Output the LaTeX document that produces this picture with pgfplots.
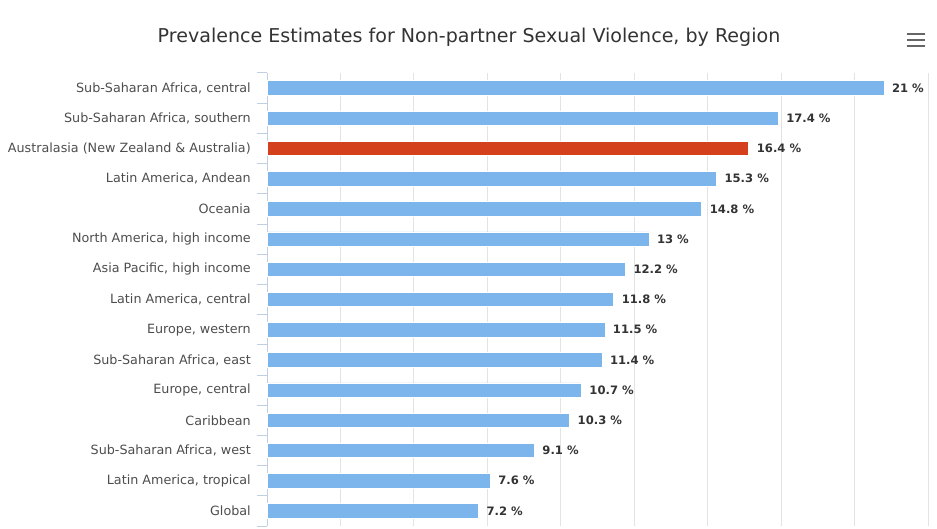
\documentclass[border=0pt]{standalone}
\usepackage{pgfplots}
\pgfplotsset{compat=1.18}
\usepackage{fontspec}
\setmainfont{DejaVu Sans}

\definecolor{hcblue}{HTML}{7CB5EC}
\definecolor{hcred}{HTML}{D4401C}
\definecolor{gridgray}{HTML}{E3E3E3}
\definecolor{axisblue}{HTML}{C0D0E0}
\definecolor{labelgray}{HTML}{4D4D4D}
\definecolor{titlegray}{HTML}{333333}

\begin{document}
\begin{tikzpicture}
	% 1px = 0.75pt, picture is 937 x 528 px
	\path[use as bounding box] (0,0) rectangle (702.75pt,396pt);
	% Title
	\node[font=\fontsize{14.3pt}{17pt}\selectfont, text=titlegray] at (351.75pt,368.25pt)
		{Prevalence Estimates for Non-partner Sexual Violence, by Region};
	% Menu icon
	\foreach \yy in {34,40,46} {
		\draw[line width=2pt, color=black!60] (907*0.75pt,{(528-\yy)*0.75pt}) -- (925*0.75pt,{(528-\yy)*0.75pt});
	}
	\begin{axis}[
		at={(200.25pt,1.5pt)}, anchor=south west,
		scale only axis,
		width=495.75pt, height=339.75pt,
		xbar, bar width=10.9pt, bar shift=0pt,
		xmin=0, xmax=22.5,
		ymin=0.5, ymax=15.5,
		y dir=reverse,
		% Vertical grid, no x labels
		xtick={2.5,5,...,22.5},
		xticklabels={},
		xmajorgrids,
		grid style={color=gridgray, line width=0.75pt},
		major tick length=0pt,
		% Category labels
		ytick={1,...,15},
		yticklabels={
			{Sub-Saharan Africa, central},
			{Sub-Saharan Africa, southern},
			{Australasia (New Zealand \& Australia)},
			{Latin America, Andean},
			{Oceania},
			{North America, high income},
			{Asia Pacific, high income},
			{Latin America, central},
			{Europe, western},
			{Sub-Saharan Africa, east},
			{Europe, central},
			{Caribbean},
			{Sub-Saharan Africa, west},
			{Latin America, tropical},
			{Global}},
		yticklabel style={font=\fontsize{9.55pt}{11pt}\selectfont, text=labelgray, inner sep=0pt, xshift=-12pt},
		% Tick marks between categories
		extra y ticks={0.5,1.5,...,15.5},
		extra y tick labels={},
		extra y tick style={major tick length=7.5pt, tick align=outside,
			tick style={color=axisblue, line width=0.75pt}},
		axis y line*=left,
		axis x line*=bottom,
		x axis line style={draw=none},
		y axis line style={color=axisblue, line width=0.75pt, -},
		% Value labels
		point meta=x,
		nodes near coords={\pgfmathprintnumber[assume math mode=true]{\pgfplotspointmeta}~\%},
		nodes near coords align={horizontal},
		every node near coord/.append style={font=\bfseries\fontsize{8.7pt}{10pt}\selectfont,
			text=black!80, xshift=2.5pt},
		clip=false,
		]
		\addplot[fill=hcblue, draw=white, line width=0.5pt] coordinates {
			(21,1) (17.4,2) (15.3,4) (14.8,5) (13,6) (12.2,7) (11.8,8)
			(11.5,9) (11.4,10) (10.7,11) (10.3,12) (9.1,13) (7.6,14) (7.2,15)
		};
		\addplot[fill=hcred, draw=white, line width=0.5pt] coordinates {
			(16.4,3)
		};
	\end{axis}
\end{tikzpicture}
\end{document}
